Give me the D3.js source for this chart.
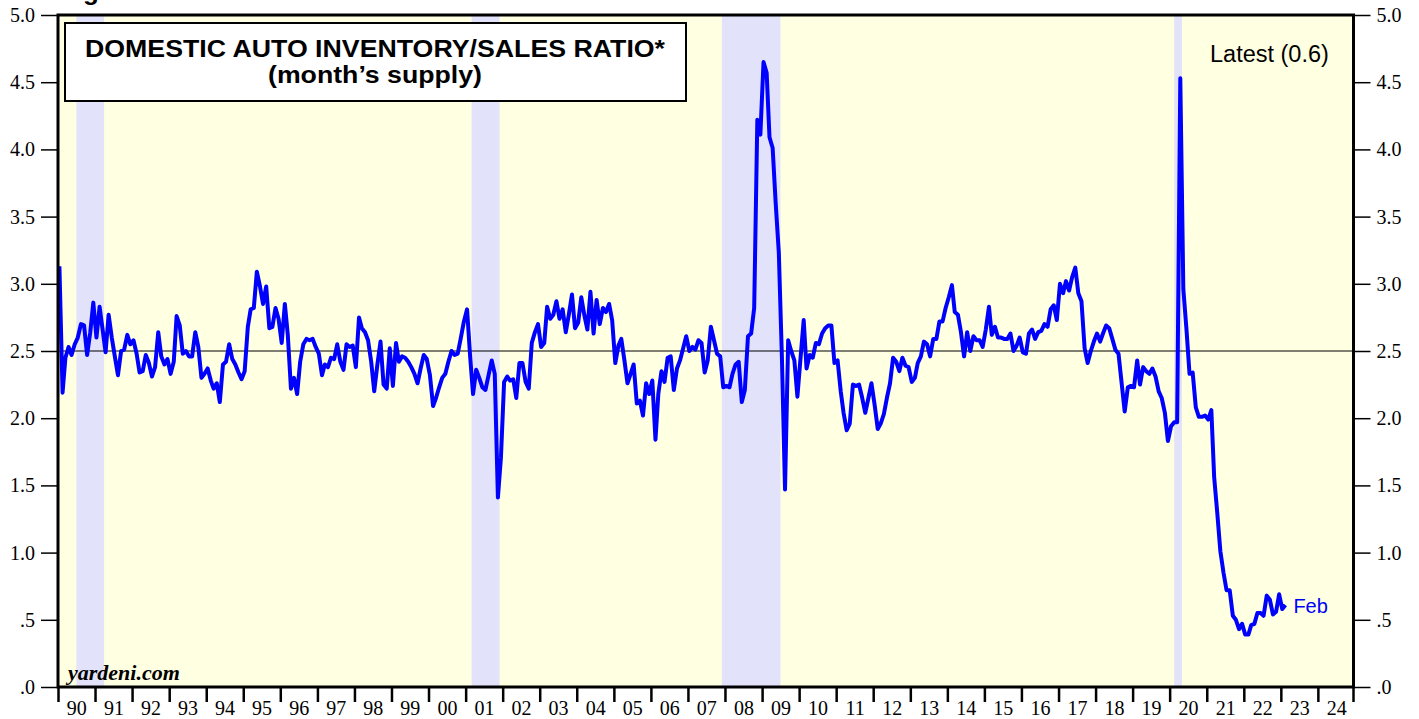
<!DOCTYPE html>
<meta charset="utf-8" />
<title>Domestic Auto Inventory/Sales Ratio</title>
<style>
  body { margin: 0; background: #fff; }
  svg { display: block; }
  .axis path { display: none; }
  .axis line { stroke: #000; }
  .axis text {
    font-family: "Liberation Serif", "Times New Roman", serif;
    font-size: 20px;
    fill: #000;
  }
  .ytick line { stroke-width: 1.5px; }
  .xtick line { stroke-width: 2.5px; }
  .sans { font-family: "Liberation Sans", Arial, sans-serif; }
</style>

<body>
  <svg width="1419" height="719"></svg>

  <script src="https://d3js.org/d3.v7.min.js"></script>
  <script>
    // monthly ratio, Jan 1990 .. Feb 2023 (one row per year)
    const ratio = [
      3.13, 2.19, 2.45, 2.53, 2.47, 2.55, 2.60, 2.70, 2.69, 2.47, 2.64, 2.86, // 1990
      2.60, 2.83, 2.67, 2.49, 2.77, 2.60, 2.46, 2.32, 2.50, 2.51, 2.62, 2.55, // 1991
      2.58, 2.48, 2.34, 2.35, 2.47, 2.41, 2.31, 2.38, 2.64, 2.46, 2.40, 2.44, // 1992
      2.33, 2.42, 2.76, 2.69, 2.48, 2.50, 2.46, 2.46, 2.64, 2.53, 2.30, 2.33, // 1993
      2.37, 2.28, 2.22, 2.26, 2.12, 2.40, 2.42, 2.55, 2.44, 2.40, 2.34, 2.29, // 1994
      2.35, 2.68, 2.81, 2.82, 3.09, 2.98, 2.85, 2.98, 2.67, 2.68, 2.82, 2.74, // 1995
      2.56, 2.85, 2.62, 2.22, 2.30, 2.18, 2.42, 2.55, 2.59, 2.58, 2.59, 2.53, // 1996
      2.48, 2.32, 2.40, 2.38, 2.45, 2.44, 2.55, 2.42, 2.36, 2.55, 2.53, 2.54, // 1997
      2.38, 2.75, 2.67, 2.64, 2.58, 2.42, 2.20, 2.40, 2.57, 2.25, 2.22, 2.52, // 1998
      2.24, 2.56, 2.42, 2.46, 2.45, 2.42, 2.38, 2.33, 2.26, 2.37, 2.47, 2.44, // 1999
      2.32, 2.09, 2.15, 2.23, 2.30, 2.33, 2.42, 2.50, 2.47, 2.48, 2.60, 2.72, // 2000
      2.81, 2.45, 2.18, 2.36, 2.30, 2.23, 2.21, 2.32, 2.43, 2.33, 1.41, 1.71, // 2001
      2.27, 2.31, 2.28, 2.29, 2.15, 2.41, 2.41, 2.27, 2.22, 2.56, 2.64, 2.70, // 2002
      2.53, 2.56, 2.83, 2.74, 2.77, 2.87, 2.74, 2.81, 2.64, 2.77, 2.92, 2.67, // 2003
      2.71, 2.90, 2.77, 2.66, 2.94, 2.63, 2.88, 2.70, 2.82, 2.79, 2.85, 2.73, // 2004
      2.41, 2.54, 2.59, 2.43, 2.26, 2.33, 2.40, 2.11, 2.13, 2.02, 2.26, 2.18, // 2005
      2.28, 1.84, 2.18, 2.35, 2.27, 2.45, 2.46, 2.21, 2.37, 2.43, 2.52, 2.61, // 2006
      2.50, 2.53, 2.51, 2.58, 2.56, 2.34, 2.43, 2.68, 2.58, 2.48, 2.46, 2.23, // 2007
      2.24, 2.23, 2.33, 2.40, 2.42, 2.12, 2.21, 2.61, 2.63, 2.82, 4.22, 4.11, // 2008
      4.65, 4.57, 4.09, 4.01, 3.60, 3.23, 2.46, 1.47, 2.58, 2.50, 2.43, 2.16, // 2009
      2.45, 2.73, 2.37, 2.47, 2.45, 2.56, 2.55, 2.63, 2.67, 2.69, 2.69, 2.41, // 2010
      2.43, 2.20, 2.04, 1.91, 1.96, 2.25, 2.24, 2.25, 2.15, 2.04, 2.15, 2.26, // 2011
      2.10, 1.92, 1.96, 2.03, 2.15, 2.26, 2.45, 2.42, 2.35, 2.45, 2.39, 2.38, // 2012
      2.27, 2.30, 2.41, 2.46, 2.57, 2.55, 2.46, 2.59, 2.59, 2.72, 2.72, 2.82, // 2013
      2.90, 2.99, 2.79, 2.77, 2.64, 2.46, 2.64, 2.50, 2.61, 2.58, 2.58, 2.53, // 2014
      2.66, 2.83, 2.62, 2.68, 2.60, 2.60, 2.59, 2.59, 2.63, 2.50, 2.54, 2.60, // 2015
      2.49, 2.48, 2.63, 2.66, 2.59, 2.64, 2.65, 2.70, 2.68, 2.81, 2.84, 2.73, // 2016
      3.00, 2.93, 3.02, 2.95, 3.05, 3.12, 2.93, 2.87, 2.52, 2.41, 2.50, 2.57, // 2017
      2.63, 2.57, 2.63, 2.69, 2.67, 2.59, 2.51, 2.48, 2.26, 2.05, 2.23, 2.24, // 2018
      2.23, 2.43, 2.25, 2.38, 2.35, 2.33, 2.37, 2.31, 2.20, 2.15, 2.04, 1.83, // 2019
      1.94, 1.97, 1.97, 4.53, 2.96, 2.66, 2.33, 2.34, 2.08, 2.01, 2.01, 2.02, // 2020
      1.99, 2.06, 1.56, 1.29, 1.01, 0.85, 0.72, 0.72, 0.53, 0.50, 0.43, 0.47, // 2021
      0.39, 0.39, 0.46, 0.47, 0.55, 0.55, 0.53, 0.68, 0.65, 0.54, 0.56, 0.69, // 2022
      0.58, 0.61                                                              // 2023
    ];
    const firstYear = 1990;

    // recession shading (start, end)
    const recessions = [
      ["1990-07-01", "1991-04-01"],
      ["2001-03-01", "2001-12-01"],
      ["2007-12-01", "2009-07-01"],
      ["2020-02-15", "2020-05-01"]
    ];

    const yTicks = [0, 0.5, 1, 1.5, 2, 2.5, 3, 3.5, 4, 4.5, 5];
    const yTickLabels = [".0", ".5", "1.0", "1.5", "2.0", "2.5", "3.0", "3.5", "4.0", "4.5", "5.0"];
    const yearLabels = ["90", "91", "92", "93", "94", "95", "96", "97", "98", "99",
      "00", "01", "02", "03", "04", "05", "06", "07", "08", "09",
      "10", "11", "12", "13", "14", "15", "16", "17", "18", "19",
      "20", "21", "22", "23", "24"];
    const latestLabel = "Feb";

    const svg = d3.select("svg");
    const plotL = 58, plotR = 1353.5, plotT = 15, plotB = 687;

    const x = d3.scaleTime()
      .domain([new Date(1990, 0, 1), new Date(2025, 0, 1)])
      .range([plotL, 1355]);
    const y = d3.scaleLinear().domain([0, 5]).range([plotB, plotT]);

    const data = ratio.map((v, i) => ({ date: new Date(firstYear, i, 15), v }));

    // plot background
    svg.append("rect")
      .attr("x", plotL).attr("y", plotT)
      .attr("width", plotR - plotL).attr("height", plotB - plotT)
      .attr("fill", "#ffffe2");

    // recession bands
    svg.selectAll("rect.rec")
      .data(recessions)
      .enter()
      .append("rect")
      .attr("class", "rec")
      .attr("x", d => x(new Date(d[0])))
      .attr("width", d => x(new Date(d[1])) - x(new Date(d[0])))
      .attr("y", plotT)
      .attr("height", plotB - plotT)
      .attr("fill", "#e2e2fa");

    // reference line at 2.5
    svg.append("line")
      .attr("x1", plotL).attr("x2", plotR)
      .attr("y1", y(2.5)).attr("y2", y(2.5))
      .attr("stroke", "#000").attr("stroke-width", 1);

    svg.append("clipPath").attr("id", "plot")
      .append("rect")
      .attr("x", plotL).attr("y", plotT)
      .attr("width", plotR - plotL).attr("height", plotB - plotT);

    const line = d3.line().x(d => x(d.date)).y(d => y(d.v));

    svg.append("path")
      .datum(data)
      .attr("clip-path", "url(#plot)")
      .attr("fill", "none")
      .attr("stroke", "#0000ff")
      .attr("stroke-width", 4)
      .attr("stroke-linejoin", "round")
      .attr("d", line);

    // frame
    svg.append("rect")
      .attr("x", plotL).attr("y", plotT)
      .attr("width", plotR - plotL).attr("height", plotB - plotT)
      .attr("fill", "none")
      .attr("stroke", "#000")
      .attr("stroke-width", 3);

    // y axes
    const fmtY = d => yTickLabels[yTicks.indexOf(d)];
    svg.append("g")
      .attr("class", "axis ytick")
      .attr("transform", `translate(${plotL - 1},0)`)
      .call(d3.axisLeft(y).tickValues(yTicks).tickFormat(fmtY).tickSize(16).tickPadding(6));

    svg.append("g")
      .attr("class", "axis ytick")
      .attr("transform", `translate(${plotR + 1},0)`)
      .call(d3.axisRight(y).tickValues(yTicks).tickFormat(fmtY).tickSize(16).tickPadding(6));

    // x axis: year boundary ticks, labels centred in each year
    const yearStarts = d3.range(1990, 2025).map(yr => new Date(yr, 0, 1));
    svg.append("g")
      .attr("class", "axis xtick")
      .attr("transform", `translate(0,${plotB + 1})`)
      .call(d3.axisBottom(x).tickValues(yearStarts).tickFormat("").tickSize(14));

    svg.append("line")
      .attr("x1", plotR).attr("x2", plotR)
      .attr("y1", plotB).attr("y2", plotB + 15)
      .attr("stroke", "#000").attr("stroke-width", 2.5);

    const yearMids = yearLabels.map((_, i) => new Date(1990 + i, 6, 1));
    svg.append("g")
      .attr("class", "axis")
      .attr("transform", `translate(0,${plotB})`)
      .call(d3.axisBottom(x).tickValues(yearMids)
        .tickFormat((d, i) => yearLabels[i]).tickSize(0).tickPadding(14));

    // title box
    svg.append("rect")
      .attr("x", 65).attr("y", 23)
      .attr("width", 621).attr("height", 78)
      .attr("fill", "#fff")
      .attr("stroke", "#000")
      .attr("stroke-width", 2);

    svg.append("text")
      .attr("class", "sans")
      .attr("x", 85).attr("y", 57)
      .attr("textLength", 580)
      .attr("lengthAdjust", "spacingAndGlyphs")
      .style("font-size", "23.5px").style("font-weight", "bold")
      .text("DOMESTIC AUTO INVENTORY/SALES RATIO*");

    svg.append("text")
      .attr("class", "sans")
      .attr("x", 268).attr("y", 83)
      .attr("textLength", 214)
      .attr("lengthAdjust", "spacingAndGlyphs")
      .style("font-size", "23.5px").style("font-weight", "bold")
      .text("(month\u2019s supply)");

    svg.append("text")
      .attr("class", "sans")
      .attr("x", 1210).attr("y", 62)
      .style("font-size", "23.5px")
      .text("Latest (0.6)");

    // figure header, cut off at the top edge as in the source image
    svg.append("text")
      .attr("class", "sans")
      .attr("x", 60).attr("y", 0)
      .style("font-size", "26px").style("font-weight", "bold")
      .text("Figure");

    svg.append("text")
      .attr("x", 68).attr("y", 680)
      .style("font-family", "'Liberation Serif', 'Times New Roman', serif")
      .style("font-size", "22px")
      .style("font-weight", "bold")
      .style("font-style", "italic")
      .text("yardeni.com");

    const last = data[data.length - 1];
    svg.append("text")
      .attr("class", "sans")
      .attr("x", x(last.date) + 8)
      .attr("y", y(last.v) + 8)
      .style("font-size", "20px")
      .attr("fill", "#0000ff")
      .text(latestLabel);
  </script>
</body>
